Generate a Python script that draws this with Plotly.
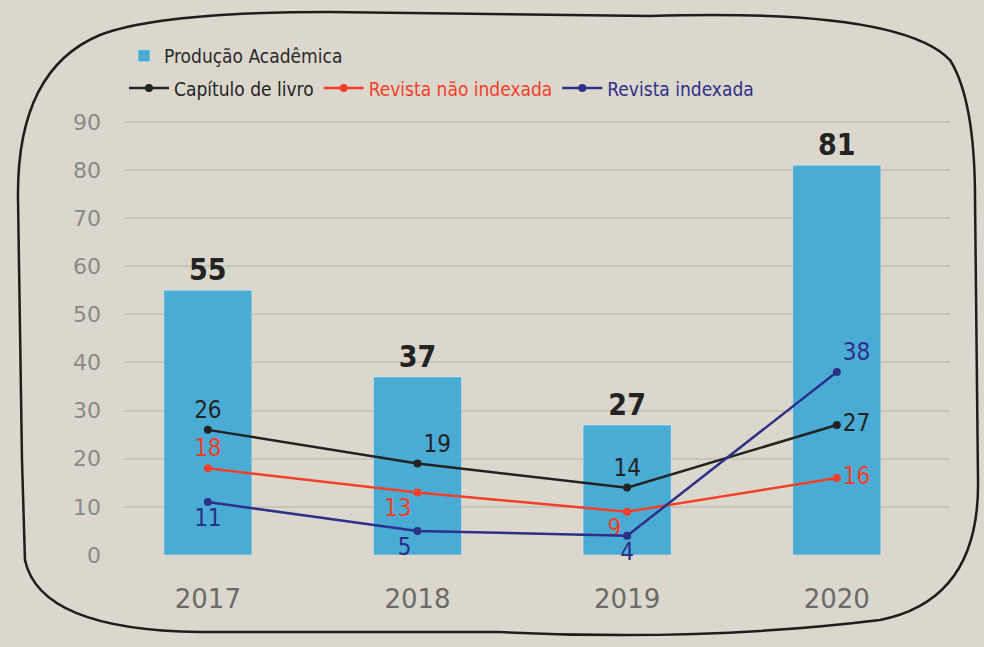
import plotly.graph_objects as go

anos = ["2017", "2018", "2019", "2020"]
producao = [55, 37, 27, 81]
capitulo = [26, 19, 14, 27]
revista_nao_indexada = [18, 13, 9, 16]
revista_indexada = [11, 5, 4, 38]
y_ticks = [0, 10, 20, 30, 40, 50, 60, 70, 80, 90]

BG = "#dbd7cd"
BAR = "#4aacd5"
BLACK = "#232323"
RED = "#f2402a"
NAVY = "#2d2f88"
FONT = "Liberation Sans Narrow, DejaVu Sans Condensed, Roboto Condensed, sans-serif"

fig = go.Figure()
fig.add_trace(go.Bar(
    x=anos, y=producao, name="Produção Acadêmica", marker_color=BAR,
    width=0.42, text=[f"<b>{v}</b>" for v in producao], textposition="outside",
    textfont=dict(size=30, color=BLACK, family=FONT), cliponaxis=False,
    legend="legend",
))

def line(vals, color, positions, display):
    fig.add_trace(go.Scatter(
        x=anos, y=vals, name=display, mode="lines+markers+text",
        line=dict(color=color, width=2.5), marker=dict(color=color, size=8),
        text=[str(v) for v in vals], textposition=positions,
        textfont=dict(size=24, color=color, family=FONT), cliponaxis=False,
        legend="legend2",
    ))

line(capitulo, BLACK,
     ["top center", "top right", "top center", "middle right"],
     f"<span style='color:{BLACK}'>Capítulo de livro</span>")
line(revista_nao_indexada, RED,
     ["top center", "bottom left", "bottom left", "middle right"],
     f"<span style='color:{RED}'>Revista não indexada</span>")
line(revista_indexada, NAVY,
     ["bottom center", "bottom left", "bottom center", "top right"],
     f"<span style='color:{NAVY}'>Revista indexada</span>")

# plot area geometry (pixels) for converting border path
L, R, T, B = 124, 950, 117, 555
def px(x, y):
    return f"{(x - L) / (R - L):.4f},{(B - y) / (B - T):.4f}"

border = (
    f"M {px(100,35)} Q {px(160,12)} {px(330,12)} L {px(650,16)} "
    f"Q {px(900,8)} {px(950,60)} Q {px(975,100)} {px(975,200)} L {px(978,480)} "
    f"Q {px(980,600)} {px(880,620)} Q {px(700,642)} {px(500,632)} L {px(200,632)} "
    f"Q {px(40,630)} {px(25,560)} L {px(22,460)} L {px(18,200)} Q {px(16,70)} {px(100,35)} Z"
)
fig.add_shape(type="path", path=border, xref="paper", yref="paper",
              line=dict(color="#1e1e1e", width=2.5), layer="above")

fig.update_layout(
    width=984, height=647, paper_bgcolor=BG, plot_bgcolor=BG,
    margin=dict(l=L, r=984 - R, t=T, b=647 - B),
    font=dict(family=FONT),
    legend=dict(orientation="h", x=0.0, y=1.183, xanchor="left", yanchor="top",
                bgcolor="rgba(0,0,0,0)", font=dict(size=19, color="#2a2a2a", family=FONT)),
    legend2=dict(orientation="h", x=0.0, y=1.109, xanchor="left", yanchor="top",
                 bgcolor="rgba(0,0,0,0)", font=dict(size=19, family=FONT),
                 itemwidth=40),
    xaxis=dict(range=[-0.4, 3.54], showgrid=False, zeroline=False, showline=False,
               tickfont=dict(size=26, color="#6a6a6a", family="DejaVu Sans, sans-serif"),
               ticks="", ticklabelstandoff=26),
    yaxis=dict(range=[0, 91], tickvals=y_ticks, showgrid=True, gridcolor="#c8c4ba",
               gridwidth=1.5, zeroline=False, showline=False,
               tickfont=dict(size=22, color="#8a8a8a", family="DejaVu Sans, sans-serif"),
               ticks="", ticklabelstandoff=22),
    showlegend=True, bargap=0.58,
)

fig.write_html("out.html", config={"displayModeBar": False},
               post_script="document.body.style.margin='0';document.body.style.background='" + BG + "';")
